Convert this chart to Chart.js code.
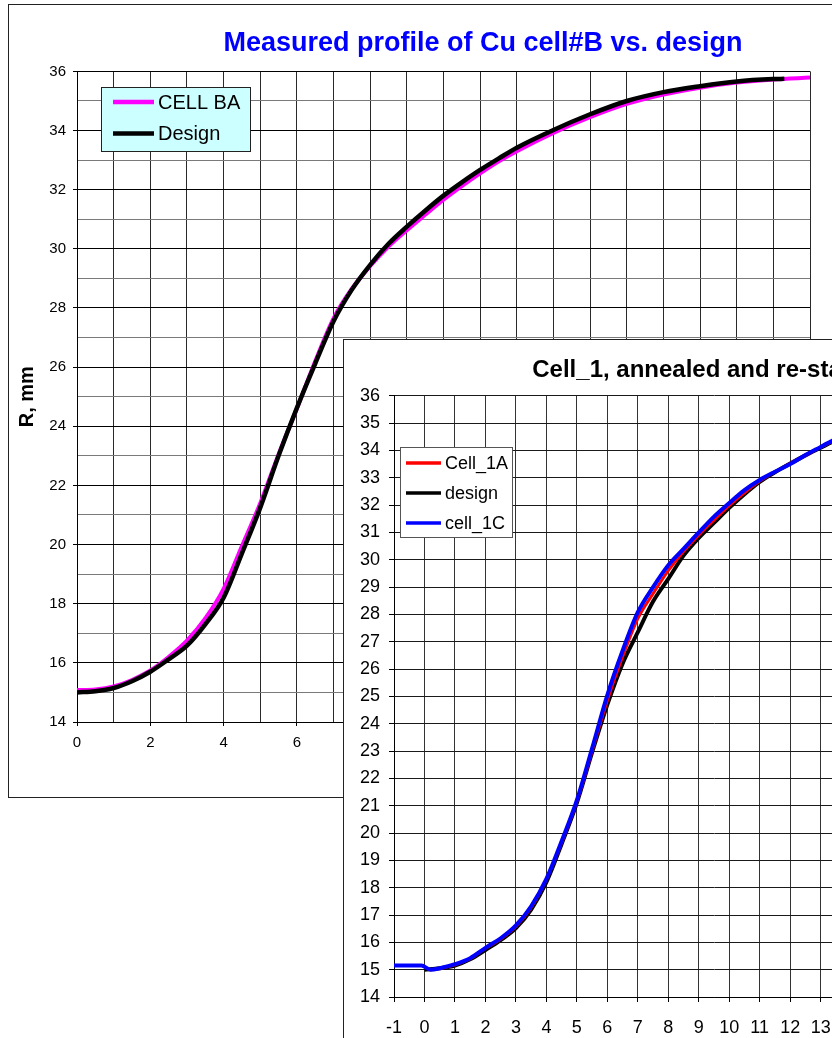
<!DOCTYPE html>
<html>
<head>
<meta charset="utf-8">
<script src="https://cdn.jsdelivr.net/npm/chart.js@4.4.1/dist/chart.umd.min.js"></script>
<style>
  html, body { margin: 0; padding: 0; background: #fff; overflow: hidden; }
  #page { position: relative; width: 832px; height: 1038px; overflow: hidden; }
  .frame { position: absolute; border: 1px solid #222; background: #fff; }
  #f1 { left: 8px; top: 4px; }
  #f2 { left: 343px; top: 339px; }
  canvas { display: block; }
</style>
</head>
<body>
<div id="page">
  <div class="frame" id="f1"><canvas id="c1" width="948" height="792"></canvas></div>
  <div class="frame" id="f2"><canvas id="c2" width="750" height="740"></canvas></div>
</div>
<script>
// ---- chart 1: measured profile of Cu cell#B vs. design ----
const zBA = [0, 0.5, 1, 1.5, 2, 2.5, 3, 3.5, 4, 4.5, 5, 5.5, 6, 6.5, 7, 7.5, 8, 8.5, 9, 9.5, 10, 10.5, 11, 11.5, 12, 13, 14, 15, 16, 17, 18, 19, 20];
const rBA = [15.08, 15.1, 15.2, 15.42, 15.74, 16.2, 16.75, 17.5, 18.5, 19.95, 21.4, 23.05, 24.6, 26.2, 27.65, 28.65, 29.42, 30.08, 30.63, 31.15, 31.66, 32.12, 32.55, 32.95, 33.3, 33.92, 34.45, 34.9, 35.22, 35.45, 35.62, 35.73, 35.79];

const zDesign1 = [0, 0.5, 1, 1.5, 2, 2.5, 3, 3.5, 4, 4.5, 5, 5.5, 6, 6.5, 7, 7.5, 8, 8.5, 9, 9.5, 10, 10.5, 11, 11.5, 12, 13, 14, 15, 16, 17, 18, 19, 19.3];
const rDesign1 = [15.0, 15.04, 15.15, 15.38, 15.7, 16.12, 16.58, 17.3, 18.2, 19.7, 21.25, 23.0, 24.62, 26.12, 27.55, 28.62, 29.46, 30.17, 30.75, 31.29, 31.8, 32.25, 32.67, 33.05, 33.42, 34.02, 34.55, 35.0, 35.3, 35.5, 35.66, 35.74, 35.75];

// ---- chart 2: Cell_1, annealed and re-stamped ----
const z1A = [-1, -0.5, -0.1, 0.2, 0.5, 1, 1.5, 2, 2.5, 3, 3.5, 4, 4.5, 5, 5.5, 6, 6.5, 7, 7.5, 8, 8.5, 9, 9.5, 10, 10.5, 11, 11.5, 12, 12.5, 13, 13.5, 14, 15, 16, 17, 18, 19, 20];
const r1A = [15.15, 15.15, 15.15, 15.0, 15.05, 15.18, 15.4, 15.78, 16.12, 16.58, 17.28, 18.3, 19.65, 21.15, 23.0, 24.85, 26.45, 27.85, 28.76, 29.6, 30.3, 30.9, 31.45, 31.98, 32.45, 32.88, 33.22, 33.52, 33.82, 34.12, 34.4, 34.62, 35.0, 35.3, 35.52, 35.68, 35.76, 35.8];

const zDesign2 = [0, 0.5, 1, 1.5, 2, 2.5, 3, 3.5, 4, 4.5, 5, 5.5, 6, 6.5, 7, 7.5, 8, 8.5, 9, 9.5, 10, 10.5, 11, 11.5, 12, 12.5, 13, 13.5, 14, 15, 16, 17, 18, 19, 19.3];
const rDesign2 = [15.0, 15.05, 15.15, 15.38, 15.72, 16.08, 16.52, 17.2, 18.2, 19.6, 21.1, 22.95, 24.7, 26.2, 27.35, 28.47, 29.3, 30.15, 30.8, 31.35, 31.9, 32.4, 32.85, 33.2, 33.52, 33.82, 34.1, 34.38, 34.6, 35.0, 35.3, 35.5, 35.66, 35.74, 35.75];

const z1C = z1A;
const r1C = [15.15, 15.15, 15.15, 15.0, 15.05, 15.2, 15.42, 15.8, 16.15, 16.62, 17.32, 18.32, 19.7, 21.2, 23.1, 25.05, 26.67, 28.08, 29.0, 29.8, 30.4, 31.0, 31.58, 32.08, 32.55, 32.92, 33.22, 33.5, 33.83, 34.13, 34.43, 34.68, 35.08, 35.38, 35.58, 35.72, 35.8, 35.85];

const FONT = "'Liberation Sans', Arial, sans-serif";
const pts = (xs, ys) => xs.map((x, i) => ({ x, y: ys[i] }));

// legend drawn as a box inside the plot, like the spreadsheet one
const boxLegend = {
  id: "boxLegend",
  afterDraw(chart, args, o) {
    const ctx = chart.ctx;
    ctx.save();
    ctx.fillStyle = o.bg;
    ctx.fillRect(o.x, o.y, o.w, o.h);
    ctx.strokeStyle = o.border;
    ctx.lineWidth = 1;
    ctx.strokeRect(o.x + 0.5, o.y + 0.5, o.w, o.h);
    ctx.font = o.font;
    ctx.textBaseline = "middle";
    chart.data.datasets.forEach((ds, i) => {
      const y = o.y + o.rowTop + i * o.rowGap;
      ctx.strokeStyle = ds.borderColor;
      ctx.lineWidth = o.lineW;
      ctx.beginPath();
      ctx.moveTo(o.x + o.lineX0, y);
      ctx.lineTo(o.x + o.lineX1, y);
      ctx.stroke();
      ctx.fillStyle = "#000";
      ctx.fillText(ds.label, o.x + o.textX, y + 1);
    });
    ctx.restore();
  },
};

const even = (v) => Math.abs(v % 2) < 1e-9;

// empty axis on the right: keeps room past the plot without shifting the title
const spacer = (w) => ({
  position: "right",
  display: true,
  ticks: { display: false },
  grid: { display: false, drawTicks: false },
  border: { display: false },
  afterFit: (s) => { s.width = w; },
});

new Chart(document.getElementById("c1"), {
  type: "line",
  data: {
    datasets: [
      {
        label: "CELL BA",
        data: pts(zBA, rBA),
        borderColor: "#ff00ff",
        borderWidth: 4,
        pointRadius: 0,
        cubicInterpolationMode: "monotone",
        order: 1,
      },
      {
        label: "Design",
        data: pts(zDesign1, rDesign1),
        borderColor: "#000000",
        borderWidth: 4.5,
        pointRadius: 0,
        cubicInterpolationMode: "monotone",
        order: 0,
      },
    ],
  },
  options: {
    responsive: false,
    animation: false,
    devicePixelRatio: 1,
    layout: { padding: { left: 0, top: 0, right: 0, bottom: 35 } },
    plugins: {
      legend: { display: false },
      tooltip: { enabled: false },
      title: {
        display: true,
        text: "Measured profile of Cu cell#B vs. design",
        color: "#0000ff",
        font: { family: FONT, size: 27, weight: "bold" },
        padding: { top: 22, bottom: 12 },
      },
      boxLegend: {
        x: 92, y: 82, w: 149, h: 64,
        bg: "#ccffff", border: "#222",
        font: `20px ${FONT}`,
        rowTop: 15, rowGap: 31.5,
        lineX0: 12, lineX1: 53, textX: 57, lineW: 4.5,
      },
    },
    scales: {
      x: {
        type: "linear",
        min: 0,
        max: 20,
        afterFit: (s) => { s.height = 40; },
        ticks: {
          stepSize: 1,
          autoSkip: false,
          maxRotation: 0,
          padding: 8,
          color: "#000",
          font: { family: FONT, size: 15 },
          callback: (v) => (even(v) ? v : ""),
        },
        grid: {
          color: "#2a2a2a",
          lineWidth: 1,
          tickLength: 4,
          tickColor: (c) => (c.tick && even(c.tick.value) ? "#000" : "rgba(0,0,0,0)"),
        },
        border: { color: "#000" },
      },
      y: {
        min: 14,
        max: 36,
        afterFit: (s) => { s.width = 68; },
        title: {
          display: true,
          text: "R, mm",
          color: "#000",
          font: { family: FONT, size: 20, weight: "bold" },
          padding: { top: 6, bottom: 0 },
        },
        ticks: {
          stepSize: 1,
          autoSkip: false,
          padding: 7,
          color: "#000",
          font: { family: FONT, size: 15 },
          callback: (v) => (even(v) ? v : ""),
        },
        grid: {
          color: (c) => (c.tick && even(c.tick.value) ? "#000" : "#7a7a7a"),
          lineWidth: 1,
          tickLength: 4,
          tickColor: (c) => (c.tick && even(c.tick.value) ? "#000" : "rgba(0,0,0,0)"),
        },
        border: { color: "#000" },
      },
      pad: spacer(147),
    },
  },
  plugins: [boxLegend],
});

new Chart(document.getElementById("c2"), {
  type: "line",
  data: {
    datasets: [
      {
        label: "Cell_1A",
        data: pts(z1A, r1A),
        borderColor: "#ff0000",
        borderWidth: 3,
        pointRadius: 0,
        cubicInterpolationMode: "monotone",
        order: 1,
      },
      {
        label: "design",
        data: pts(zDesign2, rDesign2),
        borderColor: "#000000",
        borderWidth: 4,
        pointRadius: 0,
        cubicInterpolationMode: "monotone",
        order: 2,
      },
      {
        label: "cell_1C",
        data: pts(z1C, r1C),
        borderColor: "#0000ff",
        borderWidth: 4,
        pointRadius: 0,
        cubicInterpolationMode: "monotone",
        order: 0,
      },
    ],
  },
  options: {
    responsive: false,
    animation: false,
    devicePixelRatio: 1,
    layout: { padding: { left: 0, top: 0, right: 0, bottom: 33 } },
    plugins: {
      legend: { display: false },
      tooltip: { enabled: false },
      title: {
        display: true,
        text: "Cell_1, annealed and re-stamped",
        color: "#000",
        font: { family: FONT, size: 24, weight: "bold" },
        padding: { top: 16, bottom: 11 },
      },
      boxLegend: {
        x: 56, y: 107, w: 112, h: 90,
        bg: "#ffffff", border: "#555",
        font: `18px ${FONT}`,
        rowTop: 16, rowGap: 30,
        lineX0: 6, lineX1: 41, textX: 45, lineW: 3.5,
      },
    },
    scales: {
      x: {
        type: "linear",
        min: -1,
        max: 20,
        afterFit: (s) => { s.height = 50; },
        ticks: {
          stepSize: 1,
          autoSkip: false,
          maxRotation: 0,
          padding: 15,
          color: "#000",
          font: { family: FONT, size: 18 },
        },
        grid: { color: "#333", lineWidth: 1, tickLength: 5, tickColor: "#000" },
        border: { color: "#000" },
      },
      y: {
        min: 14,
        max: 36,
        afterFit: (s) => { s.width = 50; },
        ticks: {
          stepSize: 1,
          autoSkip: false,
          padding: 9,
          color: "#000",
          font: { family: FONT, size: 18 },
        },
        grid: { color: "#1a1a1a", lineWidth: 1, tickLength: 5, tickColor: "#000" },
        border: { color: "#000" },
      },
      pad: spacer(60),
    },
  },
  plugins: [boxLegend],
});
</script>
</body>
</html>
